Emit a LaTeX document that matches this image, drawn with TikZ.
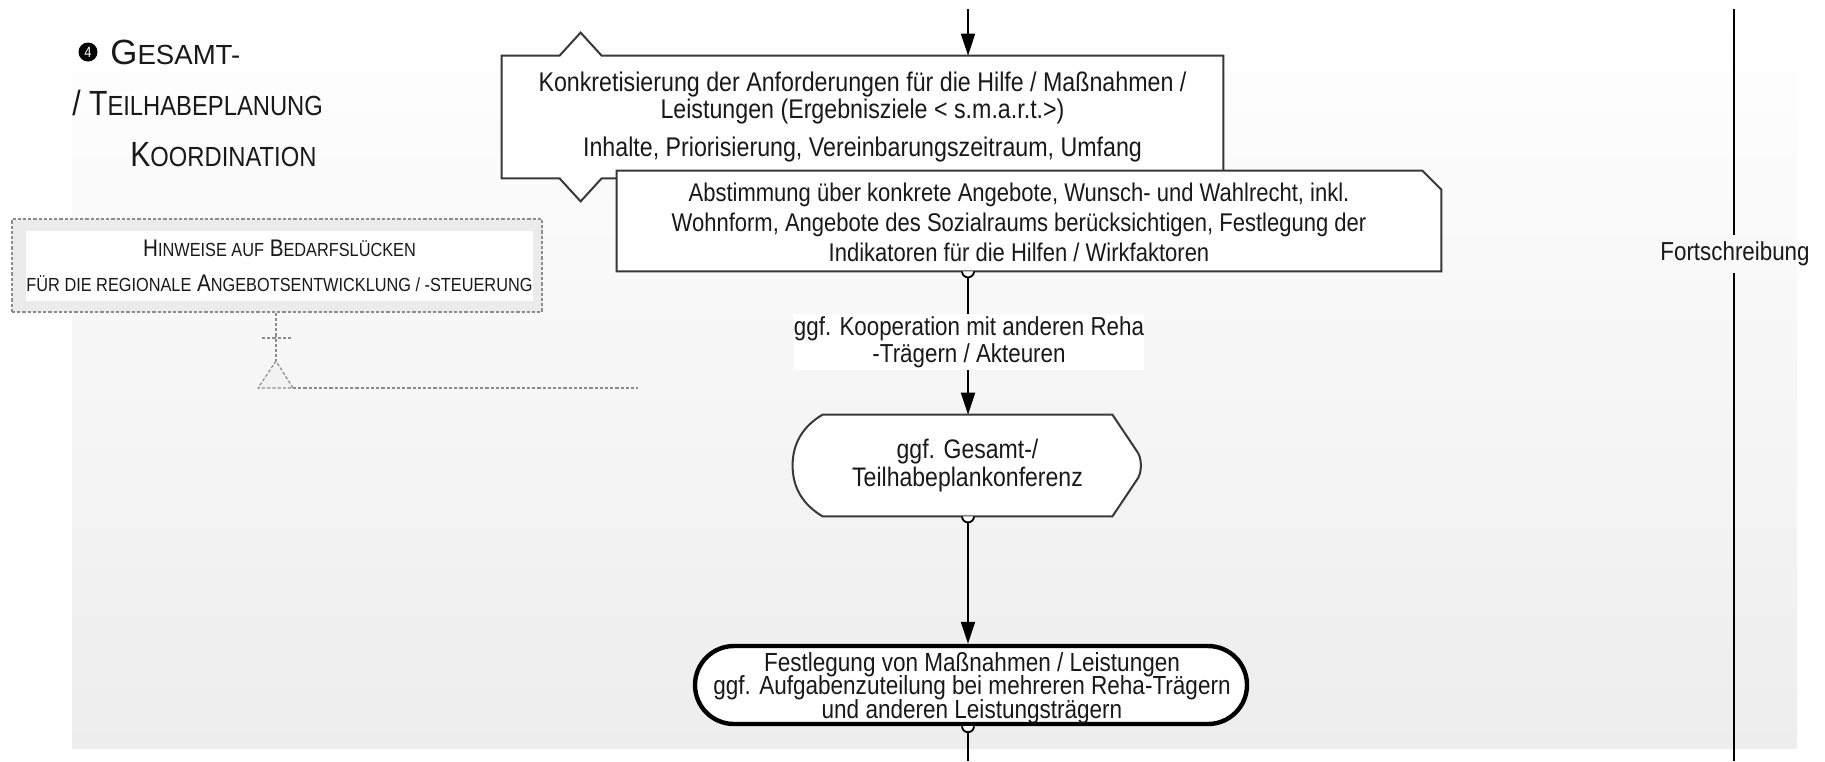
\documentclass[tikz,border=0pt]{standalone}
\usepackage{fontspec}
\setmainfont[FakeStretch=0.86]{Liberation Sans}
\usetikzlibrary{arrows.meta,calc}
\makeatletter
% capitals at reduced height, used for the small-caps headings
\newcommand\minicaps[1]{{\fontsize{\fpeval{0.79*\f@size}}{\fpeval{0.79*\f@size}}\selectfont #1}}
\makeatother
\pgfdeclarelayer{panel}
\pgfdeclarelayer{shapes}
\pgfsetlayers{panel,shapes,main}
\begin{document}
\begin{tikzpicture}[x=0.5pt,y=-0.5pt,line join=round,
  txt/.style={font=\fontsize{13}{13.5}\selectfont,align=center,inner sep=0pt,text=black!90},
  arr/.style={-{Triangle[length=11pt,width=7pt]},line width=1pt},
  flow/.style={line width=1pt},
  outline/.style={draw=black!78,line width=1pt,fill=white},
  hint/.style={draw=black!45,dash pattern=on 1.6pt off 1pt,line width=0.6pt},
  heading/.style={font=\fontsize{17.5}{20}\selectfont,inner sep=0pt,anchor=base west,text=black!90},
  knob/.pic={\draw[line width=0.9pt,fill=white] (-6,0) arc[start angle=180,end angle=0,radius=6];}
]
\useasboundingbox (0,0) rectangle (1825,761);

% lane background
\begin{pgfonlayer}{panel}
  \fill[white] (0,0) rectangle (1825,761);
  \shade[top color=white,bottom color=black!7] (72,9) rectangle (1797,748);
\end{pgfonlayer}

\coordinate (spine) at (968,0);
\coordinate (rail) at (1734,0);

% heading
\node[circle,fill=black,inner sep=0pt,minimum size=9.5pt,text=white,
      font=\fontsize{7.5}{7.5}\selectfont] (num) at (88,52) {4};
\node[heading] (t1) at (110,64) {\scalebox{1.16}[1]{G\minicaps{ESAMT-}}};
\node[heading] (t2) at (72,115) {/ T\minicaps{EILHABEPLANUNG}};
\node[heading] (t3) at (130,166) {K\minicaps{OORDINATION}};

% note box with its dashed link
\node[hint,fill=black!8,minimum width=265pt,minimum height=46.5pt] (hw) at (277,265.5) {};
\node[fill=white,inner sep=0pt,minimum width=250.5pt,minimum height=35pt,align=center,
      font=\fontsize{12}{17.5}\selectfont,text=black!90] (hwin) at (279.5,266)
  {H\minicaps{INWEISE AUF} B\minicaps{EDARFSLÜCKEN}\\
   \minicaps{FÜR DIE REGIONALE} A\minicaps{NGEBOTSENTWICKLUNG / -STEUERUNG}};
\coordinate (apex) at (276,361);
\coordinate (hintend) at (638,388);
\draw[hint] (hw.south -| apex) -- (apex);
\draw[hint] (262,338) -- (292,338);
\draw[hint,fill=black!5] (apex) -- (258,388) -- (293,388) -- cycle;
\draw[hint] (293,388) -- (hintend);

% process steps
\node[txt,minimum width=360.5pt,minimum height=61pt,font=\fontsize{13.5}{13.5}\selectfont] (b1) at (862.5,117)
  {Konkretisierung der Anforderungen für die Hilfe / Maßnahmen /\\
   Leistungen (Ergebnisziele < s.m.a.r.t.>)\\[5.5pt]
   Inhalte, Priorisierung, Vereinbarungszeitraum, Umfang};
\node[txt,minimum width=412pt,minimum height=50pt,font=\fontsize{12.8}{15}\selectfont,xshift=-5pt] (b2t) at (1029,222)
  {Abstimmung über konkrete Angebote, Wunsch- und Wahlrecht, inkl.\\
   Wohnform, Angebote des Sozialraums berücksichtigen, Festlegung der\\
   Indikatoren für die Hilfen / Wirkfaktoren};
\node[minimum width=412pt,minimum height=50pt,inner sep=0pt] (b2) at (1029,221) {};
\node[txt,fill=white,minimum width=174.5pt,minimum height=28pt] (lab) at (969,342)
  {ggf. Kooperation mit anderen Reha\\ -Trägern / Akteuren};
\node[txt,minimum width=174.5pt,minimum height=50.5pt,font=\fontsize{13.4}{14.3}\selectfont] (hx) at (967.5,465.5)
  {ggf. Gesamt-/\\ Teilhabeplankonferenz};
\node[draw=black,line width=2.2pt,fill=white,rounded corners=19.5pt,inner sep=0pt,
      minimum width=276pt,minimum height=39pt] (fin) at (971,685) {};
\node[txt,font={\fontsize{13.1}{11.8}\selectfont\lineskiplimit=-\maxdimen}] (fint) at (972,688)
  {Festlegung von Maßnahmen / Leistungen\\
   ggf. Aufgabenzuteilung bei mehreren Reha-Trägern\\
   und anderen Leistungsträgern};

% step outlines
\begin{pgfonlayer}{shapes}
  \draw[outline] (b1.north west) -- ($(b1.north west)+(58,0)$) -- ($(b1.north west)+(79,-23)$)
    -- ($(b1.north west)+(100,0)$) -- (b1.north east) -- (b1.south east)
    -- ($(b1.south west)+(100,0)$) -- ($(b1.south west)+(79,23)$) -- ($(b1.south west)+(58,0)$)
    -- (b1.south west) -- cycle;
  \draw[outline] (b2.north west) -- ($(b2.north east)+(-19,0)$) -- ($(b2.north east)+(0,19)$)
    -- (b2.south east) -- (b2.south west) -- cycle;
  \draw[outline] ($(hx.north west)+(30,0)$) -- ($(hx.north east)+(-30,0)$)
    -- ($(hx.east)+(-6,-15)$) .. controls ($(hx.east)+(0,-8)$) and ($(hx.east)+(0,8)$) .. ($(hx.east)+(-6,15)$)
    -- ($(hx.south east)+(-30,0)$) -- ($(hx.south west)+(30,0)$)
    .. controls ($(hx.south west)+(10,-12)$) and ($(hx.west)+(0,22)$) .. (hx.west)
    .. controls ($(hx.west)+(0,-22)$) and ($(hx.north west)+(10,12)$) .. ($(hx.north west)+(30,0)$) -- cycle;
\end{pgfonlayer}

% main flow
\draw[arr] (spine |- 0,9) -- (b1.north -| spine);
\draw[flow] ($(b2.south -| spine)+(0,6)$) -- (lab.north -| spine);
\pic at (b2.south -| spine) {knob};
\draw[arr] (lab.south -| spine) -- (hx.north -| spine);
\draw[arr] ($(hx.south -| spine)+(0,6)$) -- (fin.north -| spine);
\pic at (hx.south -| spine) {knob};
\draw[flow] ($(fin.south -| spine)+(0,6)$) -- (spine |- 0,761);
\pic at (fin.south -| spine) {knob};

% update loop
\node[txt,font=\fontsize{13}{13}\selectfont,inner sep=3pt] (fs) at (1735,254) {Fortschreibung};
\draw[line width=1.3pt] (rail |- 0,9) -- (fs.north -| rail);
\draw[line width=1.3pt] (fs.south -| rail) -- (rail |- 0,761);
\end{tikzpicture}
\end{document}
